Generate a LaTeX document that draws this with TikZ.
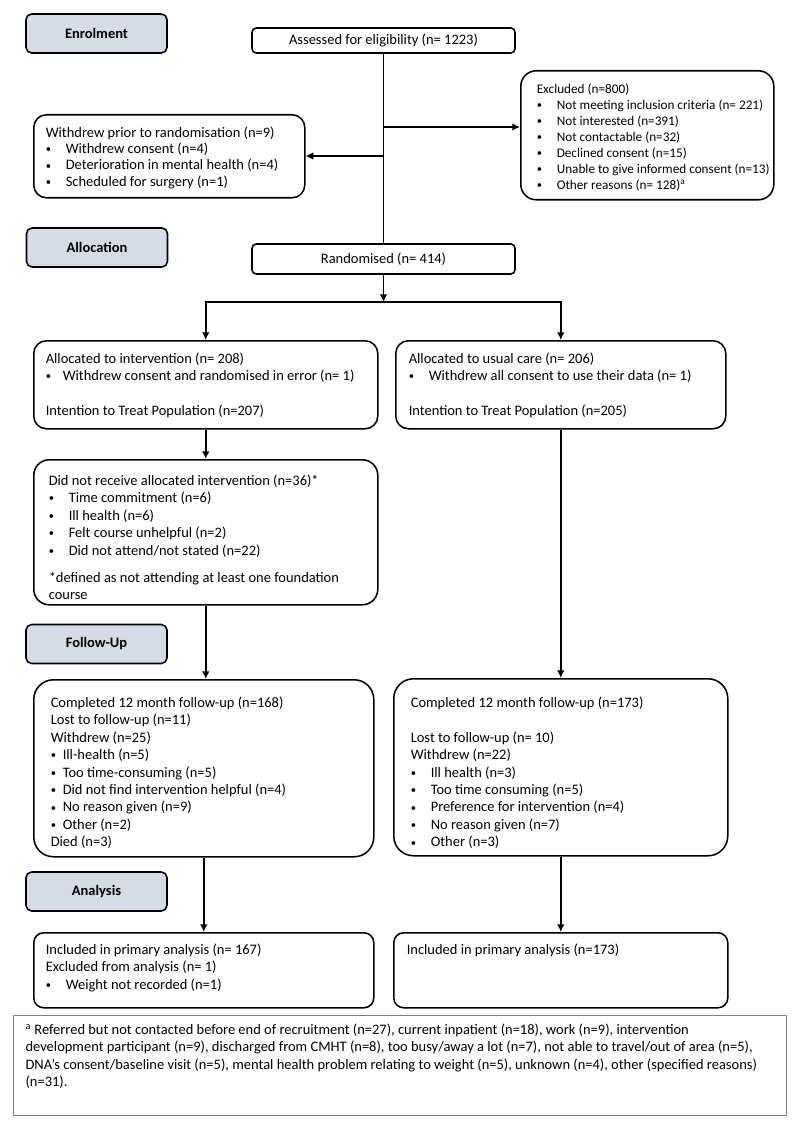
\documentclass[tikz,border=0pt]{standalone}
\usepackage{fontspec}
\setmainfont{Carlito}
\usepackage{xcolor}
\usetikzlibrary{arrows, arrows.meta, positioning, calc}

\newlength{\pu}
\setlength{\pu}{0.025cm}
\definecolor{phasegrey}{HTML}{D6DCE5}
\definecolor{notegrey}{HTML}{808080}

% box text: width, height, pad x, pad y, text
\newcommand{\boxtext}[5]{%
  \parbox[c][#2\pu][t]{#1\pu}{\vspace*{#4\pu}\hspace*{#3\pu}%
    \parbox[t]{\dimexpr#1\pu-#3\pu-4\pu\relax}{\raggedright #5}}}
\newcommand{\bul}[2]{\makebox[#1\pu][l]{\raisebox{0.6pt}{\fontsize{7.5}{7.5}\selectfont\textbullet}}#2}
\newcommand{\mainsize}{\fontsize{10.3}{12.4}\selectfont}

\tikzstyle{phase} = [draw, fill=phasegrey, rounded corners=4pt, inner sep=0pt,
  minimum width=141*\pu, minimum height=39*\pu, font=\bfseries\fontsize{10.3}{12}\selectfont]
\tikzstyle{single} = [draw, rounded corners=3pt, inner sep=0pt, font=\mainsize]
\tikzstyle{flowbox} = [draw, anchor=north west, inner sep=0pt, font=\mainsize]
\tikzstyle{arrow} = [-{Latex[length=5.5pt,width=5.5pt]}]

\begin{document}
\begin{tikzpicture}[x=0.025cm, y=-0.025cm, line width=1.1pt]
    \useasboundingbox (0,0) rectangle (800,1128);

    % Phase labels
    \node (enrol) [phase] at (96.5,33.5) {Enrolment};
    \node (alloc) [phase] at (97,247.5) {Allocation};
    \node (follow) [phase] at (96.5,644) {Follow-Up};
    \node (analysis) [phase] at (96.5,891.5) {Analysis};

    % Screening
    \node (assess) [single, minimum width=263*\pu, minimum height=25*\pu] at (383.5,40.5)
        {Assessed for eligibility (n= 1223)};
    \node (excl) [flowbox, rounded corners=11pt, font=\fontsize{9.4}{11.4}\selectfont] at (520,70)
        {\boxtext{253}{129}{16}{13}{Excluded (n=800)\\
        \bul{20}{Not meeting inclusion criteria (n= 221)}\\
        \bul{20}{Not interested (n=391)}\\
        \bul{20}{Not contactable (n=32)}\\
        \bul{20}{Declined consent (n=15)}\\
        \bul{20}{Unable to give informed consent (n=13)}\\
        \bul{20}{Other reasons (n= 128)\textsuperscript{a}}}};
    \node (wdprior) [flowbox, rounded corners=9pt, font=\fontsize{10.3}{11.6}\selectfont] at (33,114)
        {\boxtext{271}{83}{12}{12}{Withdrew prior to randomisation (n=9)\\
        \bul{20}{Withdrew consent (n=4)}\\
        \bul{20}{Deterioration in mental health (n=4)}\\
        \bul{20}{Scheduled for surgery (n=1)}}};
    \node (rand) [single, minimum width=263*\pu, minimum height=30*\pu] at (383.5,259)
        {Randomised (n= 414)};

    % Allocation
    \node (allocI) [flowbox, rounded corners=9pt] at (33,340)
        {\boxtext{344}{88}{12}{12}{Allocated to intervention (n= 208)\\
        \bul{17}{Withdrew consent and randomised in error (n= 1)}\\[\baselineskip]
        Intention to Treat Population (n=207)}};
    \node (allocU) [flowbox, rounded corners=9pt] at (395,340)
        {\boxtext{330}{88}{13}{12}{Allocated to usual care (n= 206)\\
        \bul{20}{Withdrew all consent to use their data (n= 1)}\\[\baselineskip]
        Intention to Treat Population (n=205)}};
    \node (dnr) [flowbox, rounded corners=11pt] at (33,459)
        {\boxtext{344}{145}{15}{15}{Did not receive allocated intervention (n=36)*\\
        \bul{20}{Time commitment (n=6)}\\
        \bul{20}{Ill health (n=6)}\\
        \bul{20}{Felt course unhelpful (n=2)}\\
        \bul{20}{Did not attend/not stated (n=22)}\\[7pt]
        *defined as not attending at least one foundation\\
        course}};

    % Follow-up
    \node (compL) [flowbox, rounded corners=14pt] at (33,679)
        {\boxtext{340}{177}{17}{17}{Completed 12 month follow-up (n=168)\\
        Lost to follow-up (n=11)\\
        Withdrew (n=25)\\
        \bul{12}{Ill-health (n=5)}\\
        \bul{12}{Too time-consuming (n=5)}\\
        \bul{12}{Did not find intervention helpful (n=4)}\\
        \bul{12}{No reason given (n=9)}\\
        \bul{12}{Other (n=2)}\\
        Died (n=3)}};
    \node (compR) [flowbox, rounded corners=14pt] at (393,678)
        {\boxtext{334}{177}{17}{18}{Completed 12 month follow-up (n=173)\\[\baselineskip]
        Lost to follow-up (n= 10)\\
        Withdrew (n=22)\\
        \bul{20}{Ill health (n=3)}\\
        \bul{20}{Too time consuming (n=5)}\\
        \bul{20}{Preference for intervention (n=4)}\\
        \bul{20}{No reason given (n=7)}\\
        \bul{20}{Other (n=3)}}};

    % Analysis
    \node (inclL) [flowbox, rounded corners=7pt] at (33,932)
        {\boxtext{340}{75}{12}{11}{Included in primary analysis (n= 167)\\
        Excluded from analysis (n= 1)\\
        \bul{20}{Weight not recorded (n=1)}}};
    \node (inclR) [flowbox, rounded corners=7pt] at (393,932)
        {\boxtext{334}{75}{13}{11}{Included in primary analysis (n=173)}};

    % Footnote
    \node (foot) [flowbox, draw=notegrey, line width=0.8pt] at (13,1015)
        {\boxtext{773}{100}{12}{8}{\textsuperscript{a} Referred but not contacted before end of recruitment (n=27), current inpatient (n=18), work (n=9), intervention\\
        development participant (n=9), discharged from CMHT (n=8), too busy/away a lot (n=7), not able to travel/out of area (n=5),\\
        DNA’s consent/baseline visit (n=5), mental health problem relating to weight (n=5), unknown (n=4), other (specified reasons)\\
        (n=31).}};

    % Trunk and side branches
    \draw (assess) -- (rand);
    \coordinate (brE) at (383.5,127);
    \coordinate (brW) at (383.5,156);
    \draw [arrow] (brE) -- (brE -| excl.west);
    \draw [arrow] (brW) -- (brW -| wdprior.east);

    % Split into the two arms
    \coordinate (split) at (383.5,302);
    \draw [arrow] (rand) -- (split);
    \draw [arrow] (split) -| (allocI.north);
    \draw [arrow] (split) -| (allocU.north);

    % Intervention arm
    \draw [arrow] (allocI) -- (dnr);
    \draw [arrow] (dnr.south) -- (dnr.south |- compL.north);
    \draw [arrow] (compL) -- (inclL);

    % Usual care arm
    \draw [arrow] (allocU) -- (compR);
    \draw [arrow] (compR) -- (inclR);

\end{tikzpicture}
\end{document}
